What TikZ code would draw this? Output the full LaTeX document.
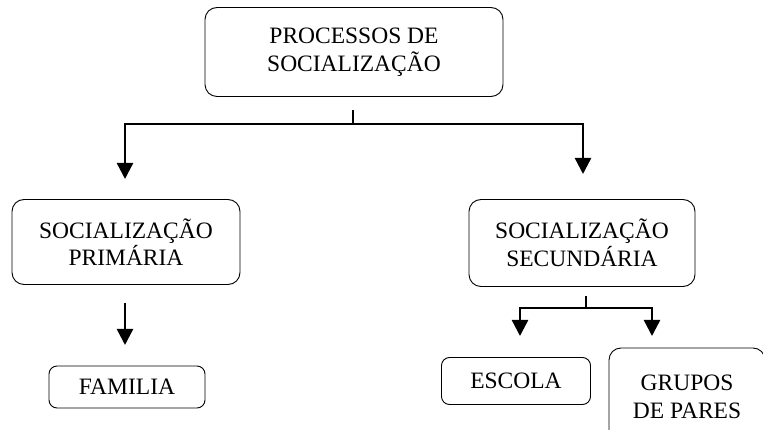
\documentclass[tikz,border=0pt]{standalone}
\usepackage{fontspec}
\setmainfont{Liberation Serif}
\usetikzlibrary{arrows.meta}
\begin{document}
\begin{tikzpicture}[x=1pt,y=-1pt,
  box/.style={draw,rounded corners=12pt,line width=0.9pt,align=center,inner sep=0pt,font=\fontsize{23.5}{27.5}\selectfont},
  conn/.style={line width=2.4pt},
  arr/.style={line width=2.4pt,-{Triangle[width=16pt,length=16pt]}}]
\useasboundingbox (0,0) rectangle (763,430);
\clip (0,0) rectangle (763,430);
\node[box,minimum width=298pt,minimum height=89pt] (top) at (354,52) {PROCESSOS DE\\SOCIALIZAÇÃO};
\node[box,minimum width=228pt,minimum height=85pt] (prim) at (126,242) {SOCIALIZAÇÃO\\PRIMÁRIA};
\node[box,minimum width=226pt,minimum height=87pt] (sec) at (582,243) {SOCIALIZAÇÃO\\SECUNDÁRIA};
\node[box,rounded corners=8pt,minimum width=156pt,minimum height=42pt] (fam) at (127,387) {FAMILIA};
\node[box,rounded corners=8pt,minimum width=149pt,minimum height=47pt] (esc) at (516,381) {ESCOLA};
\node[box,rounded corners=12pt,minimum width=156pt,minimum height=98pt] (gru) at (687,397) {GRUPOS\\DE PARES};
\coordinate (j1) at (353,124);
\coordinate (s1) at (353,110);
\coordinate (l1) at (125,124);
\coordinate (r1) at (583,124);
\draw[conn] (s1) -- (j1);
\draw[arr] (j1) -- (l1) -- (125,179);
\draw[arr] (j1) -- (r1) -- (583,174);
\draw[arr] (125,303) -- (125,345);
\coordinate (j2) at (586,308);
\draw[conn] (586,296) -- (j2);
\draw[arr] (j2) -- (520,308) -- (520,336);
\draw[arr] (j2) -- (652,308) -- (652,336);
\end{tikzpicture}
\end{document}
